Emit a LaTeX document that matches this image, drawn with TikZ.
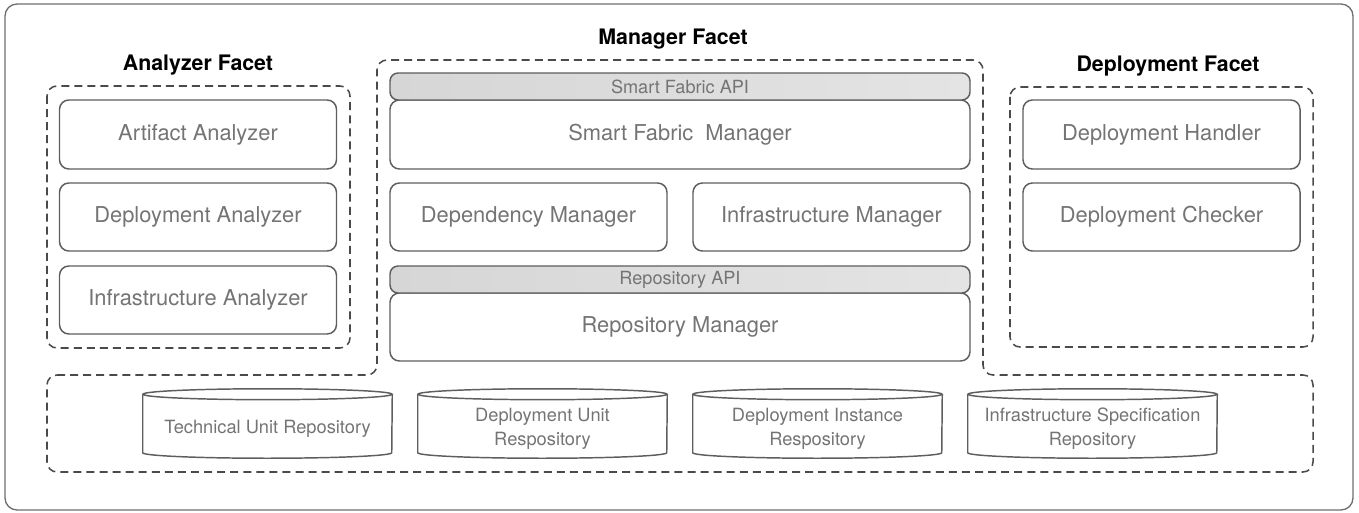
\documentclass[tikz,border=0pt]{standalone}
\usepackage{fontspec}
\setmainfont{TeX Gyre Heros}
\definecolor{edge}{HTML}{5E5E5E}
\definecolor{labelgray}{HTML}{747474}
\definecolor{dashgray}{HTML}{4A4A4A}
\definecolor{apileft}{HTML}{D6D6D6}
\definecolor{apiright}{HTML}{E4E4E4}
\definecolor{framegray}{HTML}{6E6E6E}
\tikzset{
  box/.style={draw=edge, line width=1.1pt, rounded corners=7pt, text=labelgray,
    font=\fontsize{16.4}{19}\selectfont, inner sep=0pt,
    minimum width=207.75pt, minimum height=51pt},
  widebox/.style={box, minimum width=435pt},
  api/.style={box, left color=apileft, right color=apiright, minimum width=435pt,
    minimum height=20.25pt, rounded corners=6pt, font=\fontsize{13.6}{16}\selectfont},
  facet/.style={draw=dashgray, line width=1.15pt, dash pattern=on 6pt off 3.8pt,
    rounded corners=7.5pt},
  facettitle/.style={font=\bfseries\fontsize{16}{19}\selectfont, text=black, inner sep=0pt},
  repo/.style={minimum width=186.75pt, minimum height=43.5pt, inner sep=0pt},
  repotext/.style={text=labelgray, align=center, inner sep=0pt,
    font=\fontsize{13.7}{18}\selectfont},
  repoline/.style={draw=edge, line width=1.1pt},
}
% cylinder outline drawn around a repo node
\newcommand{\drawrepo}[1]{%
  \draw[repoline] (#1.north west) -- (#1.south west)
    arc[start angle=180, end angle=360, x radius=93.375pt, y radius=4.1pt]
    -- (#1.north east);
  \draw[repoline] (#1.north) ellipse[x radius=93.375pt, y radius=4.1pt];
}
\begin{document}
\begin{tikzpicture}[x=0.75pt, y=-0.75pt]
\useasboundingbox (0,0) rectangle (1359,513);

% outer frame
\draw[draw=framegray, line width=1pt, rounded corners=9pt] (5,4) rectangle (1353,510);

% facet outlines
\draw[facet] (47,86) rectangle (350,348);
\draw[facet] (1010,87) rectangle (1313,347);
\draw[facet] (47,375) -- (377,375) -- (377,60) -- (983,60) -- (983,375)
  -- (1313,375) -- (1313,472) -- (47,472) -- cycle;

% facet titles
\node[facettitle] (tanalyzer) at (198,65) {Analyzer Facet};
\node[facettitle] (tmanager) at (673,39) {Manager Facet};
\node[facettitle] (tdeploy) at (1168,66) {Deployment Facet};

% analyzer facet
\node[box, minimum height=51.75pt] (artifact) at (198,134.5) {Artifact Analyzer};
\node[box] (depanalyzer) at (198,217) {Deployment Analyzer};
\node[box] (infanalyzer) at (198,300) {Infrastructure Analyzer};

% manager facet
\node[widebox, minimum height=51.75pt] (sfmanager) at (680,134.5) {Smart Fabric~ Manager};
\node[api] (sfapi) at (680,86.5) {Smart Fabric API};
\node[box] (depmanager) at (528.5,217) {Dependency Manager};
\node[box] (infmanager) at (831.5,217) {Infrastructure Manager};
\node[widebox] (repomanager) at (680,327) {Repository Manager};
\node[api] (repoapi) at (680,279.5) {Repository API};

% deployment facet
\node[box, minimum height=51.75pt] (handler) at (1161.5,134.5) {Deployment Handler};
\node[box] (checker) at (1161.5,217) {Deployment Checker};

% repositories
\node[repo] (r1) at (267.5,423.5) {};
\node[repo] (r2) at (542.5,423.5) {};
\node[repo] (r3) at (817.5,423.5) {};
\node[repo] (r4) at (1092.5,423.5) {};
\drawrepo{r1}
\drawrepo{r2}
\drawrepo{r3}
\drawrepo{r4}
\node[repotext] (r1t) at (267.5,429) {Technical Unit Repository};
\node[repotext] (r2t) at (542.5,429) {Deployment Unit\\Respository};
\node[repotext] (r3t) at (817.5,429) {Deployment Instance\\Respository};
\node[repotext] (r4t) at (1092.5,429) {Infrastructure Specification\\Repository};
\end{tikzpicture}
\end{document}
